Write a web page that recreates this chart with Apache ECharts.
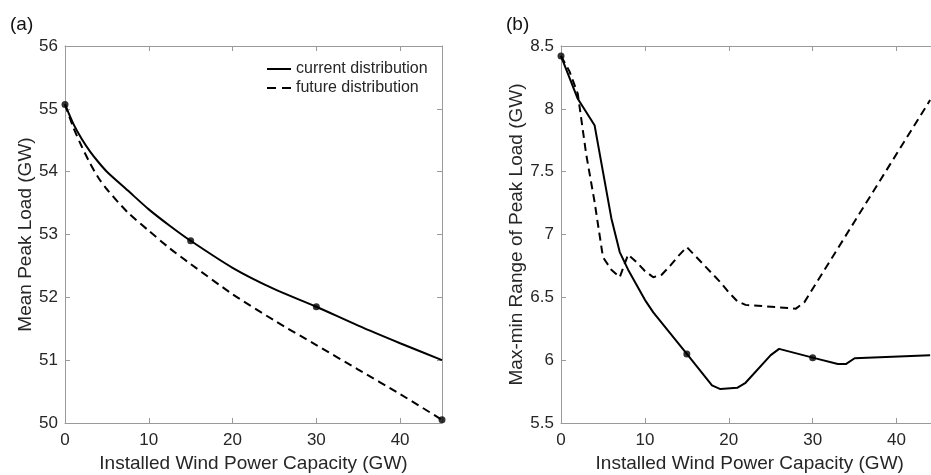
<!DOCTYPE html>
<html>
<head>
<meta charset="utf-8">
<script src="https://cdn.jsdelivr.net/npm/echarts@6/dist/echarts.min.js"></script>
<style>
  html, body { margin: 0; padding: 0; background: #fff; }
  #chart { width: 931px; height: 475px; }
</style>
</head>
<body>
<div id="chart"></div>
<script>
// Panel (a): mean peak load vs installed wind capacity
const capA = [0, 1, 2, 3, 4, 5, 7.5, 10, 12.5, 15, 20, 25, 30, 35, 40, 45];
const meanCurrent = [55.07, 54.76, 54.52, 54.32, 54.15, 54.0, 53.7, 53.4, 53.14, 52.9, 52.47, 52.13, 51.85, 51.55, 51.27, 51.0];
const meanFuture = [55.07, 54.7, 54.4, 54.13, 53.9, 53.72, 53.35, 53.06, 52.78, 52.53, 52.05, 51.63, 51.24, 50.85, 50.46, 50.05];
const markA_current = [0, 15, 30];
const markA_future = [45];

// Panel (b): max-min range of peak load vs installed wind capacity
const capB_current = [0, 2, 4, 5, 6, 7, 8, 9, 10, 11, 15, 18, 19, 21, 22, 25, 26, 30, 33, 34, 35, 44];
const rangeCurrent = [8.42, 8.08, 7.87, 7.5, 7.13, 6.86, 6.72, 6.6, 6.48, 6.38, 6.05, 5.8, 5.77, 5.78, 5.82, 6.04, 6.09, 6.02, 5.97, 5.97, 6.015, 6.04];
const capB_future = [0, 1, 2, 3, 4, 5, 6, 7, 8, 9, 10, 11, 12, 13, 14, 15, 16, 17, 18, 19, 20, 21, 22, 28, 29, 44];
const rangeFuture = [8.42, 8.3, 8.12, 7.64, 7.26, 6.82, 6.72, 6.66, 6.84, 6.78, 6.71, 6.66, 6.68, 6.75, 6.83, 6.9, 6.83, 6.76, 6.69, 6.62, 6.54, 6.47, 6.44, 6.41, 6.46, 8.07];
const markB_current = [0, 15, 30];

const xTitle = 'Installed Wind Power Capacity (GW)';
const yTitleA = 'Mean Peak Load (GW)';
const yTitleB = 'Max-min Range of Peak Load (GW)';
const legendNames = ['current distribution', 'future distribution'];

const FONT = '"Liberation Sans", Arial, Helvetica, sans-serif';
const AXIS_GRAY = '#9a9a9a';
const TEXT = '#262626';
const TITLE_SIZE = 19;

// legend keys: a solid bar and a two-dash bar
const ICON_SOLID = 'path://M0,0 L24,0 L24,2 L0,2 Z';
const ICON_DASH = 'path://M0,0 L9,0 L9,2 L0,2 Z M15,0 L24,0 L24,2 L15,2 Z';

function pairs(xs, ys) { return xs.map((x, i) => [x, ys[i]]); }
function pick(xs, ys, keys) { return keys.map(k => [k, ys[xs.indexOf(k)]]); }

function mainX(grid, min, max) {
  return {
    type: 'value', gridIndex: grid, position: 'bottom', min: min, max: max, interval: 10,
    name: xTitle, nameLocation: 'middle', nameGap: 31,
    nameTextStyle: { fontFamily: FONT, fontSize: TITLE_SIZE, color: TEXT },
    axisLine: { onZero: false, lineStyle: { color: AXIS_GRAY, width: 1 } },
    axisTick: { inside: true, length: 5, lineStyle: { color: AXIS_GRAY } },
    axisLabel: { fontFamily: FONT, fontSize: 17, color: TEXT, margin: 9, showMaxLabel: false },
    splitLine: { show: false }
  };
}
function boxX(grid, min, max) {
  return {
    type: 'value', gridIndex: grid, position: 'top', min: min, max: max, interval: 10,
    axisLine: { onZero: false, lineStyle: { color: AXIS_GRAY, width: 1 } },
    axisTick: { inside: true, length: 5, lineStyle: { color: AXIS_GRAY } },
    axisLabel: { show: false }, splitLine: { show: false }
  };
}
function mainY(grid, min, max, step, title, gap) {
  return {
    type: 'value', gridIndex: grid, position: 'left', min: min, max: max, interval: step,
    name: title, nameLocation: 'middle', nameGap: gap, nameRotate: 90,
    nameTextStyle: { fontFamily: FONT, fontSize: TITLE_SIZE, color: TEXT },
    axisLine: { show: true, onZero: false, lineStyle: { color: AXIS_GRAY, width: 1 } },
    axisTick: { show: true, inside: true, length: 5, lineStyle: { color: AXIS_GRAY } },
    axisLabel: { fontFamily: FONT, fontSize: 17, color: TEXT, margin: 7 },
    splitLine: { show: false }
  };
}
function boxY(grid, min, max, step) {
  return {
    type: 'value', gridIndex: grid, position: 'right', min: min, max: max, interval: step,
    axisLine: { show: true, onZero: false, lineStyle: { color: AXIS_GRAY, width: 1 } },
    axisTick: { show: true, inside: true, length: 5, lineStyle: { color: AXIS_GRAY } },
    axisLabel: { show: false }, splitLine: { show: false }
  };
}

const solid = { color: '#000', width: 2, type: 'solid' };
const dashed = { color: '#000', width: 2, type: [8, 5] };

const option = {
  animation: false,
  backgroundColor: '#fff',
  title: [
    { text: '(a)', left: 5, top: 10, textStyle: { fontFamily: FONT, fontSize: 19, fontWeight: 'normal', color: '#111' } },
    { text: '(b)', left: 501, top: 10, textStyle: { fontFamily: FONT, fontSize: 19, fontWeight: 'normal', color: '#111' } }
  ],
  legend: {
    data: [
      { name: legendNames[0], icon: ICON_SOLID, itemStyle: { color: '#000' } },
      { name: legendNames[1], icon: ICON_DASH, itemStyle: { color: '#000' } }
    ],
    orient: 'vertical',
    left: 267, top: 61, padding: 0,
    itemWidth: 24, itemHeight: 2, itemGap: 3,
    textStyle: { fontFamily: FONT, fontSize: 16, color: TEXT },
    backgroundColor: 'transparent'
  },
  // fixed plot boxes; panel (b) runs past the right edge of the canvas
  grid: [
    { left: 65, top: 46, width: 377, height: 377, outerBoundsMode: 'none', containLabel: false },
    { left: 561, top: 46, width: 377.5, height: 377, outerBoundsMode: 'none', containLabel: false }
  ],
  xAxis: [mainX(0, 0, 45), boxX(0, 0, 45), mainX(1, 0, 45), boxX(1, 0, 45)],
  yAxis: [
    mainY(0, 50, 56, 1, yTitleA, 30), boxY(0, 50, 56, 1),
    mainY(1, 5.5, 8.5, 0.5, yTitleB, 28), boxY(1, 5.5, 8.5, 0.5)
  ],
  series: [
    { name: legendNames[0], type: 'line', xAxisIndex: 0, yAxisIndex: 0, data: pairs(capA, meanCurrent),
      symbol: 'none', smooth: 0.25, lineStyle: solid, itemStyle: { color: '#000' } },
    { name: legendNames[1], type: 'line', xAxisIndex: 0, yAxisIndex: 0, data: pairs(capA, meanFuture),
      symbol: 'none', smooth: 0.25, lineStyle: dashed, itemStyle: { color: '#000' } },
    { type: 'scatter', xAxisIndex: 0, yAxisIndex: 0, symbolSize: 7, itemStyle: { color: '#000' },
      data: pick(capA, meanCurrent, markA_current).concat(pick(capA, meanFuture, markA_future)), clip: false },

    { name: 'b-current', type: 'line', xAxisIndex: 2, yAxisIndex: 2, data: pairs(capB_current, rangeCurrent),
      symbol: 'none', lineStyle: solid, itemStyle: { color: '#000' } },
    { name: 'b-future', type: 'line', xAxisIndex: 2, yAxisIndex: 2, data: pairs(capB_future, rangeFuture),
      symbol: 'none', lineStyle: dashed, itemStyle: { color: '#000' } },
    { type: 'scatter', xAxisIndex: 2, yAxisIndex: 2, symbolSize: 7, itemStyle: { color: '#000' },
      data: pick(capB_current, rangeCurrent, markB_current), clip: false }
  ]
};

const chart = echarts.init(document.getElementById('chart'), null, { renderer: 'canvas' });
chart.setOption(option);
</script>
</body>
</html>
